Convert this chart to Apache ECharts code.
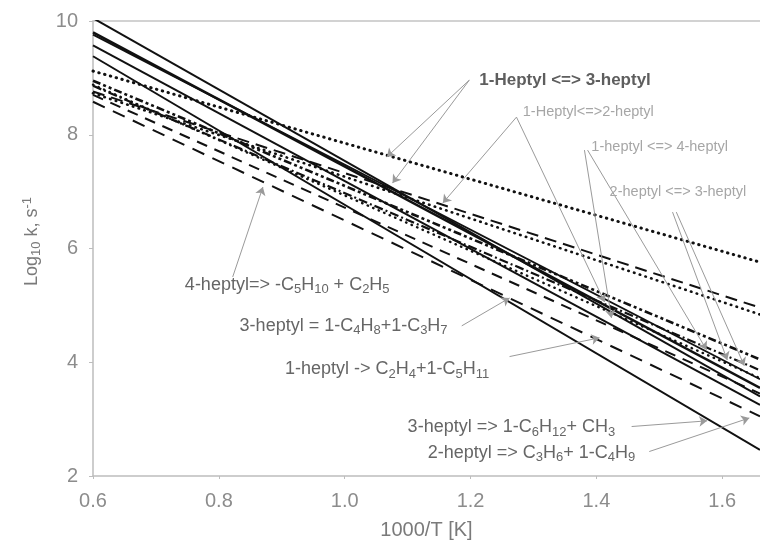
<!DOCTYPE html>
<html>
<head>
<meta charset="utf-8">
<script src="https://cdn.jsdelivr.net/npm/echarts@6/dist/echarts.min.js"></script>
<style>
  html, body { margin: 0; padding: 0; background: #fff; }
  #chart { width: 760px; height: 541px; }
</style>
</head>
<body>
<div id="chart"></div>
<script>
// 1000/T endpoints of every Arrhenius line
const invTemp = [0.6, 1.66];

// log10 k at 1000/T = 0.6 and 1.66 (straight Arrhenius lines)
const betaA = [10.05, 3.40];
const betaB = [9.80, 3.55];
const betaC = [9.76, 3.70];
const betaD = [9.57, 3.25];
const betaE = [9.38, 2.46];
const isoTop = [9.12, 5.76];
const isoDash = [8.76, 4.96];
const isoDot = [8.73, 4.84];
const bandA = [8.95, 4.05];
const bandB = [8.86, 3.86];
const dotLow = [8.88, 3.72];
const dashA = [8.70, 3.45];
const dashB = [8.58, 3.05];

const xTicks = [0.6, 0.8, 1.0, 1.2, 1.4, 1.6];
const yTicks = [2, 4, 6, 8, 10];

// annotation texts: [text, x, y]
const notes = [
  ['1-Heptyl <=> 3-heptyl', 1.214, 8.96],
  ['1-Heptyl<=>2-heptyl', 1.283, 8.40],
  ['1-heptyl <=> 4-heptyl', 1.392, 7.79],
  ['2-heptyl <=> 3-heptyl', 1.421, 7.00],
  ['4-heptyl=> -C{s|5}H{s|10} + C{s|2}H{s|5}', 0.746, 5.36],
  ['3-heptyl = 1-C{s|4}H{s|8}+1-C{s|3}H{s|7}', 0.833, 4.64],
  ['1-heptyl -> C{s|2}H{s|4}+1-C{s|5}H{s|11}', 0.905, 3.88],
  ['3-heptyl => 1-C{s|6}H{s|12}+ CH{s|3}', 1.100, 2.86],
  ['2-heptyl => C{s|3}H{s|6}+ 1-C{s|4}H{s|9}', 1.132, 2.41]
];

// leader arrows: [x1, y1, x2, y2]
const arrows = [
  [1.198, 8.96, 1.067, 7.61],
  [1.198, 8.96, 1.076, 7.15],
  [1.273, 8.31, 1.156, 6.80],
  [1.273, 8.31, 1.413, 5.06],
  [1.381, 7.73, 1.424, 4.78],
  [1.386, 7.73, 1.575, 4.22],
  [1.521, 6.64, 1.608, 4.04],
  [1.527, 6.64, 1.635, 3.94],
  [0.822, 5.50, 0.870, 7.08],
  [1.186, 4.64, 1.262, 5.13],
  [1.262, 4.10, 1.405, 4.43],
  [1.456, 2.87, 1.576, 2.97],
  [1.484, 2.43, 1.643, 3.02]
];

const FONT = 'Liberation Sans, Arial, sans-serif';
const INK = '#111';
const solid = w => ({ color: INK, width: w, type: 'solid' });
const dotted = w => ({ color: INK, width: w, type: [0.5, 5.5], cap: 'round' });
const dashed = (w, d) => ({ color: INK, width: w, type: d });

const lines = [
  [betaA, solid(2)],
  [betaB, solid(2.4)],
  [betaC, solid(1.8)],
  [betaD, solid(2)],
  [betaE, solid(2)],
  [isoTop, dotted(3)],
  [isoDash, dashed(2, [12, 7])],
  [isoDot, dotted(2.6)],
  [bandA, dashed(2.6, [8, 3, 3, 3, 3, 3])],
  [bandB, dashed(2.2, [9, 3, 2, 3])],
  [dotLow, dotted(2.4)],
  [dashA, dashed(2, [11, 8])],
  [dashB, dashed(2, [13, 9])]
];

const series = lines.map(([vals, style]) => ({
  type: 'line',
  data: invTemp.map((x, i) => [x, vals[i]]),
  symbol: 'none',
  lineStyle: style,
  silent: true,
  z: 3
}));

// label look per annotation group
function noteStyle(i) {
  if (i === 0) return { color: '#5e5e5e', fontSize: 17, fontWeight: 'bold' };
  if (i < 4) return { color: '#a6a6a6', fontSize: 14.5, fontWeight: 'normal' };
  return { color: '#666', fontSize: 18, fontWeight: 'normal' };
}

series.push({
  type: 'line',
  data: [],
  silent: true,
  z: 2,
  markLine: {
    silent: true,
    symbol: ['none', 'arrow'],
    symbolSize: 8,
    label: { show: false },
    lineStyle: { color: '#9a9a9a', width: 1, type: 'solid' },
    emphasis: { disabled: true },
    data: arrows.map(a => [{ coord: [a[0], a[1]] }, { coord: [a[2], a[3]] }])
  },
  markPoint: {
    silent: true,
    symbol: 'circle',
    symbolSize: 0,
    data: notes.map((n, i) => {
      const st = noteStyle(i);
      return {
        coord: [n[1], n[2]],
        label: Object.assign({
          show: true,
          position: 'right',
          distance: 0,
          formatter: n[0],
          fontFamily: FONT,
          rich: {
            s: { fontSize: 13, padding: [10, 0, 0, 0], color: st.color, fontFamily: FONT }
          }
        }, st)
      };
    })
  }
});

const chart = echarts.init(document.getElementById('chart'), null, { renderer: 'canvas' });
chart.setOption({
  animation: false,
  backgroundColor: '#fff',
  grid: { left: 93, right: 0, top: 21, bottom: 65, containLabel: false, outerBoundsMode: 'none' },
  xAxis: [{
    type: 'value',
    min: 0.6,
    max: 1.66,
    interval: 0.2,
    name: '1000/T [K]',
    nameLocation: 'middle',
    nameGap: 44,
    nameTextStyle: { color: '#7a7a7a', fontSize: 20, fontFamily: FONT },
    axisLine: { lineStyle: { color: '#bdbdbd', width: 1.5 } },
    axisTick: { show: true, length: 3, lineStyle: { color: '#bdbdbd' } },
    splitLine: { show: false },
    axisLabel: {
      color: '#8c8c8c',
      fontSize: 20,
      margin: 15,
      fontFamily: FONT,
      showMaxLabel: false,
      formatter: v => {
        const t = xTicks.find(k => Math.abs(k - v) < 1e-6);
        return t === undefined ? '' : t.toFixed(1);
      }
    }
  }, {
    type: 'value',
    position: 'top',
    min: 0.6,
    max: 1.66,
    axisLine: { show: true, lineStyle: { color: '#c4c4c4', width: 1.5 } },
    axisTick: { show: false },
    axisLabel: { show: false },
    splitLine: { show: false }
  }],
  yAxis: {
    type: 'value',
    min: 2,
    max: 10,
    interval: 2,
    name: 'Log{s|10} k, s{p|-1}',
    nameLocation: 'middle',
    nameGap: 50,
    nameRotate: 90,
    nameTextStyle: {
      color: '#7a7a7a', fontSize: 18, fontFamily: FONT,
      padding: [0, 0, 0, 14],
      rich: {
        s: { fontSize: 13, padding: [9, 0, 0, 0], color: '#7a7a7a', fontFamily: FONT },
        p: { fontSize: 13, padding: [0, 0, 9, 0], color: '#7a7a7a', fontFamily: FONT }
      }
    },
    axisLine: { show: true, lineStyle: { color: '#bdbdbd', width: 1.5 } },
    axisTick: { show: true, length: 4, lineStyle: { color: '#bdbdbd' } },
    splitLine: { show: false },
    axisLabel: {
      color: '#8c8c8c',
      fontSize: 20,
      margin: 15,
      fontFamily: FONT,
      formatter: v => (yTicks.includes(v) ? String(v) : '')
    }
  },
  series: series
});
</script>
</body>
</html>
